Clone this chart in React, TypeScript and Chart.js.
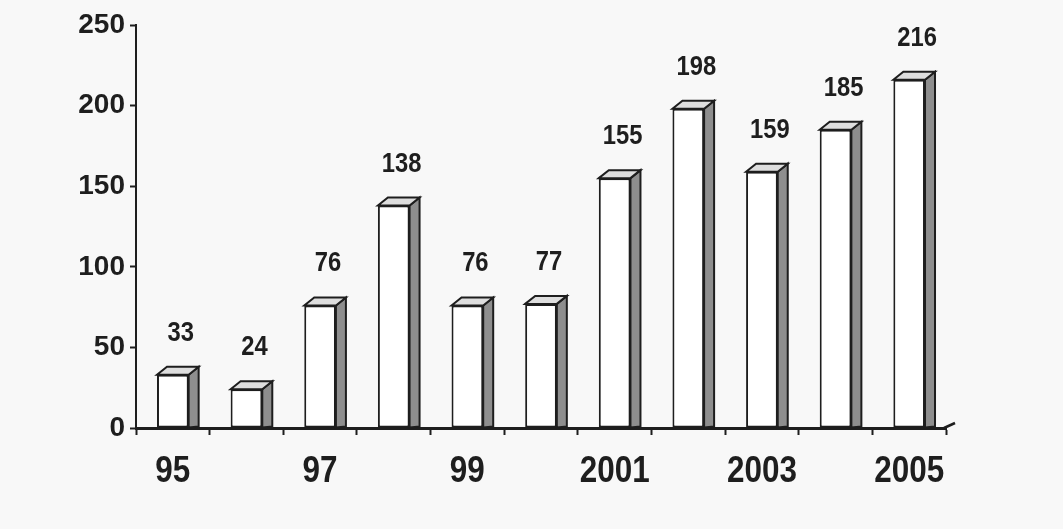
import React, { useEffect, useRef } from "react";
import { Chart, registerables } from "chart.js";

Chart.register(...registerables);

// Yearly totals, 1995–2005
const years = ["95", "96", "97", "98", "99", "2000", "2001", "2002", "2003", "2004", "2005"];
const shownYears = ["95", "97", "99", "2001", "2003", "2005"];
const values = [33, 24, 76, 138, 76, 77, 155, 198, 159, 185, 216];
const yTicks = [0, 50, 100, 150, 200, 250];

const INK = "#1e1e1e";
const FONT = '"Liberation Sans", Arial, sans-serif';

const DEPTH_X = 10;
const DEPTH_Y = 8;

// Condensed bold text: normal glyphs squeezed horizontally
function drawCondensed(ctx: CanvasRenderingContext2D, text: string, x: number, y: number, size: number, squeeze: number) {
  ctx.save();
  ctx.translate(x, y);
  ctx.scale(squeeze, 1);
  ctx.font = `bold ${size}px ${FONT}`;
  ctx.fillStyle = INK;
  ctx.textAlign = "center";
  ctx.textBaseline = "alphabetic";
  ctx.fillText(text, 0, 0);
  ctx.restore();
}

// Draws the side and top faces of each bar, value labels and year labels
const bars3d = {
  id: "bars3d",
  afterDatasetsDraw(chart: any) {
    const { ctx } = chart;
    const meta = chart.getDatasetMeta(0);
    ctx.save();
    ctx.lineWidth = 2;
    ctx.strokeStyle = INK;
    ctx.lineJoin = "miter";
    meta.data.forEach((bar: any, i: number) => {
      const { x, y, base, width } = bar.getProps(["x", "y", "base", "width"], true);
      const x0 = x - width / 2;
      const x1 = x + width / 2;

      // side face
      ctx.beginPath();
      ctx.moveTo(x1, y);
      ctx.lineTo(x1 + DEPTH_X, y - DEPTH_Y);
      ctx.lineTo(x1 + DEPTH_X, base - 1);
      ctx.lineTo(x1, base);
      ctx.closePath();
      ctx.fillStyle = "#8e8e8e";
      ctx.fill();
      ctx.stroke();

      // top face
      ctx.beginPath();
      ctx.moveTo(x0, y);
      ctx.lineTo(x0 + DEPTH_X, y - DEPTH_Y);
      ctx.lineTo(x1 + DEPTH_X, y - DEPTH_Y);
      ctx.lineTo(x1, y);
      ctx.closePath();
      ctx.fillStyle = "#dedede";
      ctx.fill();
      ctx.stroke();

      // value label
      drawCondensed(ctx, String(values[i]), x + 8, y - 34, 28, 0.85);
    });
    ctx.restore();
  },
  afterDraw(chart: any) {
    const { ctx, chartArea } = chart;
    const xScale = chart.scales.x;

    // year labels under the axis
    years.forEach((label, i) => {
      if (!shownYears.includes(label)) return;
      drawCondensed(ctx, label, xScale.getPixelForValue(i), chartArea.bottom + 54, 37, 0.85);
    });

    // short slanted end of the floor line
    ctx.save();
    ctx.strokeStyle = INK;
    ctx.lineWidth = 2.5;
    ctx.beginPath();
    ctx.moveTo(chartArea.right - 2, chartArea.bottom);
    ctx.lineTo(chartArea.right + 9, chartArea.bottom - 5);
    ctx.stroke();
    ctx.restore();
  },
};

export default function App() {
  const canvasRef = useRef<HTMLCanvasElement | null>(null);

  useEffect(() => {
    if (!canvasRef.current) return;
    const chart = new Chart(canvasRef.current, {
      type: "bar",
      data: {
        labels: years,
        datasets: [
          {
            data: values,
            backgroundColor: "#ffffff",
            borderColor: INK,
            borderWidth: 2,
            borderSkipped: false,
            categoryPercentage: 1,
            barPercentage: 0.43,
          },
        ],
      },
      options: {
        animation: false,
        responsive: true,
        maintainAspectRatio: false,
        layout: { padding: { left: 0, top: 25, right: 117, bottom: 41 } },
        plugins: {
          legend: { display: false },
          tooltip: { enabled: false },
        },
        scales: {
          x: {
            type: "category",
            offset: true,
            grid: {
              offset: true,
              drawOnChartArea: false,
              drawTicks: true,
              tickLength: 7,
              tickColor: INK,
              tickWidth: 2,
              color: INK,
            },
            border: { display: true, color: INK, width: 3 },
            ticks: { display: false, autoSkip: false },
            afterFit: (s: any) => {
              s.height = 60;
            },
          },
          y: {
            min: 0,
            max: 250,
            afterBuildTicks: (s: any) => {
              s.ticks = yTicks.map((v) => ({ value: v }));
            },
            ticks: {
              padding: 5,
              color: INK,
              font: { family: FONT, size: 28, weight: "bold" },
            },
            grid: {
              drawOnChartArea: false,
              tickLength: 6,
              tickColor: INK,
              tickWidth: 2,
            },
            border: { display: true, color: INK, width: 2 },
            afterFit: (s: any) => {
              s.width = 136;
            },
          },
        },
      },
      plugins: [bars3d],
    });
    return () => chart.destroy();
  }, []);

  return (
    <div
      style={{
        position: "absolute",
        left: 0,
        top: 0,
        width: 1063,
        height: 529,
        background: "#f8f8f8",
      }}
    >
      <canvas ref={canvasRef} />
    </div>
  );
}
